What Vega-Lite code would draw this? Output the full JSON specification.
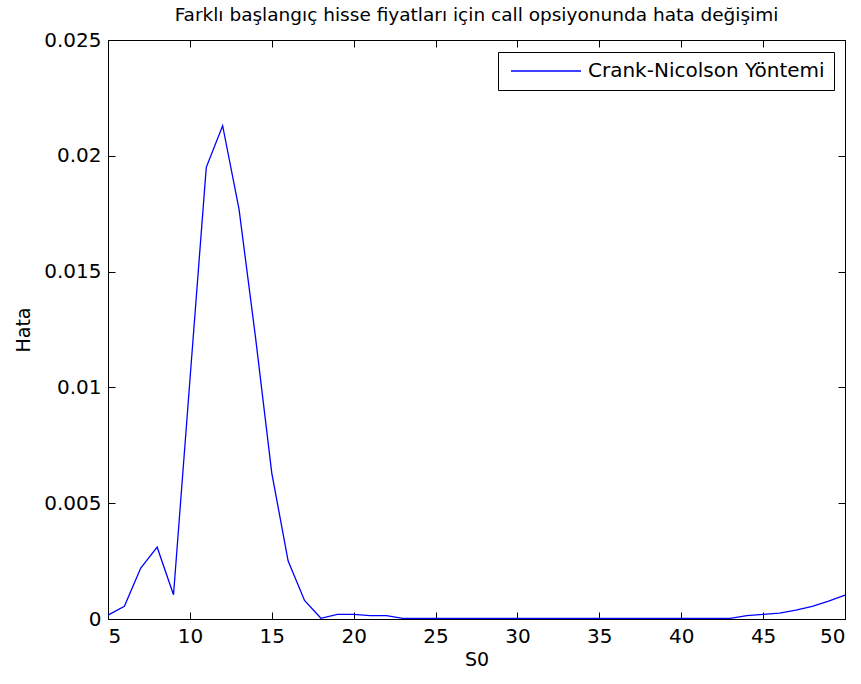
{
  "$schema": "https://vega.github.io/schema/vega-lite/v6.json",
  "width": 737,
  "height": 579,
  "autosize": {"type": "none"},
  "padding": {"left": 108, "top": 40, "right": 16, "bottom": 65},
  "background": "white",
  "title": {
    "text": "Farklı başlangıç hisse fiyatları için call opsiyonunda hata değişimi",
    "font": "DejaVu Sans",
    "fontSize": 18.5,
    "fontWeight": "normal",
    "color": "black",
    "anchor": "middle",
    "offset": 6
  },
  "config": {
    "view": {"stroke": "black", "strokeWidth": 1},
    "axis": {
      "domainColor": "black",
      "tickColor": "black",
      "labelColor": "black",
      "titleColor": "black",
      "labelFont": "DejaVu Sans",
      "titleFont": "DejaVu Sans",
      "labelFontSize": 20,
      "titleFontSize": 19,
      "titleFontWeight": "normal",
      "grid": false,
      "tickSize": -7,
      "labelPadding": 14
    },
    "legend": {
      "labelFont": "DejaVu Sans",
      "labelFontSize": 20,
      "labelColor": "black"
    }
  },
  "data": {
    "values": [
      {"S0": 5, "Hata": 0.00017},
      {"S0": 6, "Hata": 0.00055},
      {"S0": 7, "Hata": 0.0022},
      {"S0": 8, "Hata": 0.0031},
      {"S0": 9, "Hata": 0.00105},
      {"S0": 10, "Hata": 0.0103},
      {"S0": 11, "Hata": 0.0195},
      {"S0": 12, "Hata": 0.0213},
      {"S0": 13, "Hata": 0.0177},
      {"S0": 14, "Hata": 0.0122},
      {"S0": 15, "Hata": 0.0063},
      {"S0": 16, "Hata": 0.0025},
      {"S0": 17, "Hata": 0.0008},
      {"S0": 18, "Hata": 0.00003},
      {"S0": 19, "Hata": 0.0002},
      {"S0": 20, "Hata": 0.0002},
      {"S0": 21, "Hata": 0.00015},
      {"S0": 22, "Hata": 0.00015},
      {"S0": 23, "Hata": 0.00003},
      {"S0": 24, "Hata": 0.00003},
      {"S0": 25, "Hata": 0.00003},
      {"S0": 26, "Hata": 0.00003},
      {"S0": 27, "Hata": 0.00003},
      {"S0": 28, "Hata": 0.00003},
      {"S0": 29, "Hata": 0.00003},
      {"S0": 30, "Hata": 0.00003},
      {"S0": 31, "Hata": 0.00003},
      {"S0": 32, "Hata": 0.00003},
      {"S0": 33, "Hata": 0.00003},
      {"S0": 34, "Hata": 0.00003},
      {"S0": 35, "Hata": 0.00003},
      {"S0": 36, "Hata": 0.00003},
      {"S0": 37, "Hata": 0.00003},
      {"S0": 38, "Hata": 0.00003},
      {"S0": 39, "Hata": 0.00003},
      {"S0": 40, "Hata": 0.00003},
      {"S0": 41, "Hata": 0.00003},
      {"S0": 42, "Hata": 0.00003},
      {"S0": 43, "Hata": 0.00003},
      {"S0": 44, "Hata": 0.00015},
      {"S0": 45, "Hata": 0.0002},
      {"S0": 46, "Hata": 0.00025},
      {"S0": 47, "Hata": 0.00038},
      {"S0": 48, "Hata": 0.00055},
      {"S0": 49, "Hata": 0.00077},
      {"S0": 50, "Hata": 0.00103}
    ]
  },
  "layer": [
    {
      "mark": {"type": "line", "strokeWidth": 1.3},
      "encoding": {
        "x": {
          "field": "S0", "type": "quantitative",
          "scale": {"domain": [5, 50], "nice": false, "zero": false},
          "axis": {"orient": "bottom", "title": "S0", "values": [5,10,15,20,25,30,35,40,45,50], "titlePadding": 4}
        },
        "y": {
          "field": "Hata", "type": "quantitative",
          "scale": {"domain": [0, 0.025], "nice": false},
          "axis": {"orient": "left", "title": "Hata", "values": [0,0.005,0.01,0.015,0.02,0.025], "format": "~g", "titlePadding": 10}
        },
        "color": {
          "datum": "Crank-Nicolson Yöntemi",
          "type": "nominal",
          "scale": {"range": ["#0000ff"]},
          "legend": {
            "title": null,
            "orient": "none",
            "legendX": 390,
            "legendY": 12,
            "symbolType": "M-1.2,0H12.8",
            "symbolSize": 100,
            "symbolStrokeWidth": 1.3,
            "strokeColor": "black",
            "fillColor": "white",
            "padding": 9,
            "labelOffset": 61,
            "labelLimit": 500
          }
        }
      }
    },
    {
      "mark": {"type": "line", "opacity": 0},
      "encoding": {
        "x": {
          "field": "S0", "type": "quantitative",
          "axis": {"orient": "top", "title": null, "labels": false, "values": [5,10,15,20,25,30,35,40,45,50]}
        },
        "y": {
          "field": "Hata", "type": "quantitative",
          "axis": {"orient": "right", "title": null, "labels": false, "values": [0,0.005,0.01,0.015,0.02,0.025]}
        }
      }
    }
  ],
  "resolve": {"axis": {"x": "independent", "y": "independent"}}
}
